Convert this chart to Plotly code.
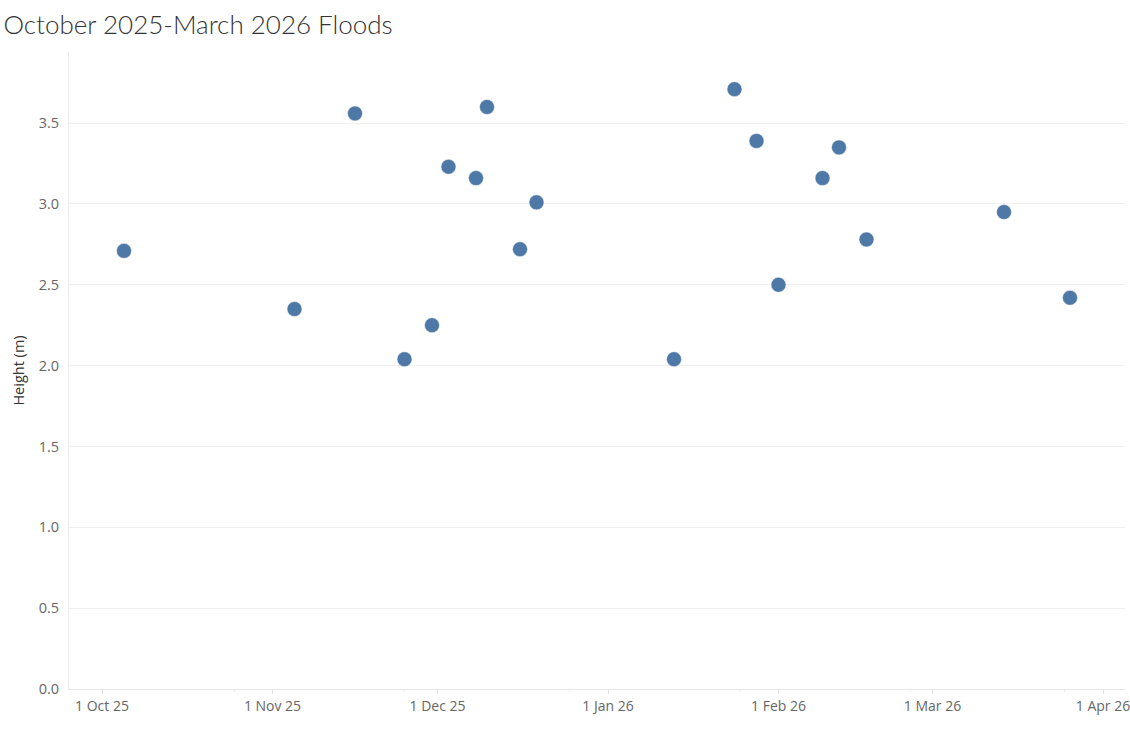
import pandas as pd
import plotly.graph_objects as go

# flood events (date, peak height in metres)
dates = ["2025-10-05", "2025-11-05", "2025-11-16", "2025-11-25", "2025-11-30",
         "2025-12-03", "2025-12-08", "2025-12-10", "2025-12-16", "2025-12-19",
         "2026-01-13", "2026-01-24", "2026-01-28", "2026-02-01", "2026-02-09",
         "2026-02-12", "2026-02-17", "2026-03-14", "2026-03-26"]
heights = [2.71, 2.35, 3.56, 2.04, 2.25,
           3.23, 3.16, 3.60, 2.72, 3.01,
           2.04, 3.71, 3.39, 2.50, 3.16,
           3.35, 2.78, 2.95, 2.42]

tick_dates = ["2025-10-01", "2025-11-01", "2025-12-01", "2026-01-01",
              "2026-02-01", "2026-03-01", "2026-04-01"]
tick_labels = ["1 Oct 25", "1 Nov 25", "1 Dec 25", "1 Jan 26",
               "1 Feb 26", "1 Mar 26", "1 Apr 26"]
minor_dates = ["2025-10-25", "2025-11-25", "2025-12-25", "2026-01-25",
               "2026-02-25", "2026-03-25"]

y_ticks = [0, 0.5, 1.0, 1.5, 2.0, 2.5, 3.0, 3.5]

fig = go.Figure()

fig.add_trace(go.Scatter(
    x=pd.to_datetime(dates),
    y=heights,
    mode="markers",
    marker=dict(size=15, color="#4e79a7", line=dict(width=0.5, color="#ffffff")),
    hovertemplate="%{x|%d %b %y}<br>%{y:.2f} m<extra></extra>",
))

fig.update_layout(
    width=1130,
    height=731,
    template="plotly_white",
    showlegend=False,
    font=dict(family="Open Sans, sans-serif", color="#666666"),
    title=dict(
        text="October 2025-March 2026 Floods",
        x=0.003, xanchor="left",
        y=0.966, yanchor="middle",
        font=dict(family="Lato Light, Lato, sans-serif", size=26, color="#333333"),
    ),
    margin=dict(l=69, r=5, t=52, b=42),
    plot_bgcolor="white",
    paper_bgcolor="white",
)

fig.update_xaxes(
    range=["2025-09-25", "2026-04-05"],
    automargin=False,
    tickmode="array",
    tickvals=pd.to_datetime(tick_dates),
    ticktext=tick_labels,
    tickfont=dict(size=14, color="#666666"),
    ticklabeloverflow="allow",
    showgrid=False,
    zeroline=False,
    showline=True,
    linecolor="#e6e6e6",
    linewidth=1,
    ticks="outside",
    ticklen=4,
    tickcolor="#e0e0e0",
    minor=dict(tickmode="array", tickvals=pd.to_datetime(minor_dates),
               ticks="outside", ticklen=2, tickcolor="#ececec", showgrid=False),
)

fig.update_yaxes(
    title=dict(text="Height (m)", font=dict(size=14.5, color="#333333"), standoff=10),
    range=[0, 3.94],
    automargin=False,
    tickmode="array",
    tickvals=y_ticks,
    ticktext=[f"{v:.1f}" for v in y_ticks],
    tickfont=dict(size=14.5, color="#666666"),
    showgrid=True,
    gridcolor="#f0f0f0",
    gridwidth=1,
    zeroline=False,
    showline=True,
    linecolor="#ececec",
    ticks="",
    ticklabelstandoff=6,
)

# drop the browser's default page margin so the figure sits at 0,0
fig.write_html("out.html", config={"displayModeBar": False},
               post_script="document.body.style.margin='0';")
